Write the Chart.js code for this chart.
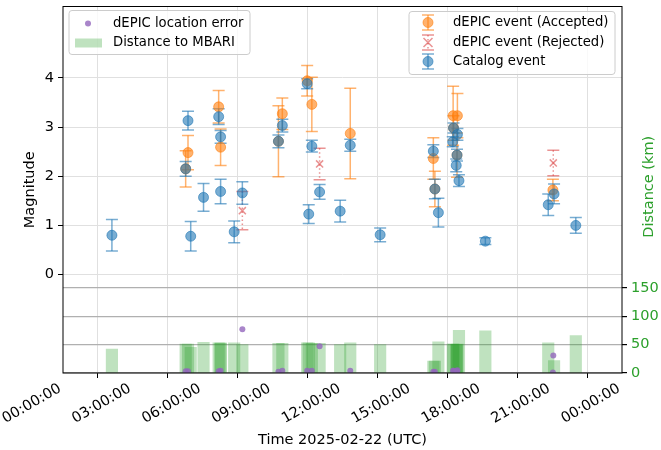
<!DOCTYPE html>
<html><head><meta charset="utf-8">
<script src="https://cdn.jsdelivr.net/npm/chart.js@4/dist/chart.umd.min.js"></script>
<style>html,body{margin:0;padding:0;background:#fff;}</style>
</head><body>
<canvas id="c" width="661" height="450"></canvas>
<script>
// ---------------- data ----------------
const xTickHours = [0, 3, 6, 9, 12, 15, 18, 21, 24];
const magTicks = [0, 1, 2, 3, 4];
const distTicks = [0, 50, 100, 150];

// Catalog events
const catalogTimes = ['02:06','05:16','05:22','05:29','06:02','06:41','06:46','06:46','07:21','07:42',
  '09:15','09:25','10:29','10:33','10:41','11:01','11:54','12:20','13:37','15:54','15:58','16:07',
  '16:44','16:46','16:53','16:55','16:56','17:00','18:08','20:50','21:05','22:01'];
const catalogMag = [0.80,2.15,3.13,0.78,1.57,3.21,2.80,1.69,0.87,1.66,
  2.71,3.03,3.88,1.23,2.61,1.68,1.29,2.63,0.81,2.51,1.74,1.26,
  2.70,2.98,2.22,2.43,2.85,1.91,0.68,1.42,1.64,1.00];
const catalogErr = [0.32,0.15,0.19,0.30,0.28,0.16,0.13,0.25,0.22,0.23,
  0.13,0.13,0.10,0.19,0.12,0.15,0.22,0.12,0.14,0.13,0.20,0.29,
  0.10,0.10,0.13,0.12,0.12,0.12,0.07,0.22,0.20,0.16];
const catalogDistKm = [42,51,51,45,54,53,53,52,53,50,
  52,52,53,53,52,52,50,53,50,21,21,55,
  51,51,50,50,51,75,74,53,22,66];

// dEPIC events (accepted)
const acceptedTimes = ['05:16','05:22','06:41','06:46','09:15','09:25','10:29','10:41','12:20',
  '15:54','15:58','16:45','16:46','16:55','16:56','21:02'];
const acceptedMag = [2.15,2.48,3.41,2.59,2.71,3.27,3.94,3.46,2.87,2.36,1.74,3.23,2.98,2.43,3.23,1.72];
const acceptedErr = [0.37,0.35,0.33,0.37,0.72,0.32,0.31,0.55,0.92,0.42,0.36,0.60,0.25,0.45,0.45,0.22];
const acceptedLocErrKm = [3,3,3,4,2,4,4,4,4,2,2,4,4,3,5,1];

// dEPIC events (rejected)
const rejectedTimes = ['07:42','11:01','21:03'];
const rejectedMag = [1.30,2.25,2.27];
const rejectedErr = [0.39,0.32,0.26];
const rejectedLocErrKm = [77,47,31];

// ---------------- helpers ----------------
const toH = s => { const [h, m] = s.split(':').map(Number); return h + m / 60; };
const pad2 = n => String(n).padStart(2, '0');
const FONT = 'DejaVu Sans';
const AX_FS = 14.5;   // axis / tick text
const LG_FS = 13.2;   // legend text

const C_BLUE = 'rgba(31,119,180,0.6)';
const C_ORANGE = 'rgba(255,127,14,0.6)';
const C_RED = 'rgba(214,39,40,0.5)';
const C_PURPLE = 'rgba(148,103,189,0.8)';
const C_GREEN = 'rgba(44,160,44,0.3)';
const C_GREEN_TXT = '#2ca02c';

const pts = (times, vals) => times.map((t, i) => ({ x: toH(t), y: vals[i] }));

function drawErrSet(chart, times, mags, errs, color, dotted) {
  const { ctx, scales: { x, y }, chartArea } = chart;
  ctx.save();
  ctx.beginPath();
  ctx.rect(chartArea.left, chartArea.top, chartArea.right - chartArea.left, chartArea.bottom - chartArea.top);
  ctx.clip();
  ctx.strokeStyle = color;
  ctx.lineWidth = 1.5;
  times.forEach((t, i) => {
    const px = x.getPixelForValue(toH(t));
    const top = y.getPixelForValue(mags[i] + errs[i]);
    const bot = y.getPixelForValue(mags[i] - errs[i]);
    ctx.setLineDash(dotted ? [1.5, 2.5] : []);
    ctx.beginPath(); ctx.moveTo(px, top); ctx.lineTo(px, bot); ctx.stroke();
    ctx.setLineDash([]);
    ctx.beginPath(); ctx.moveTo(px - 6, top); ctx.lineTo(px + 6, top); ctx.stroke();
    ctx.beginPath(); ctx.moveTo(px - 6, bot); ctx.lineTo(px + 6, bot); ctx.stroke();
  });
  ctx.restore();
}

function roundRect(ctx, x, y, w, h, r) {
  ctx.beginPath();
  ctx.moveTo(x + r, y);
  ctx.lineTo(x + w - r, y); ctx.quadraticCurveTo(x + w, y, x + w, y + r);
  ctx.lineTo(x + w, y + h - r); ctx.quadraticCurveTo(x + w, y + h, x + w - r, y + h);
  ctx.lineTo(x + r, y + h); ctx.quadraticCurveTo(x, y + h, x, y + h - r);
  ctx.lineTo(x, y + r); ctx.quadraticCurveTo(x, y, x + r, y);
  ctx.closePath();
}

function legendErrMarker(ctx, cx, cy, color, kind) {
  ctx.save();
  ctx.strokeStyle = color; ctx.lineWidth = 1.5;
  ctx.setLineDash(kind === 'x' ? [1.5, 2.5] : []);
  ctx.beginPath(); ctx.moveTo(cx, cy - 7.5); ctx.lineTo(cx, cy + 7.5); ctx.stroke();
  ctx.setLineDash([]);
  ctx.beginPath(); ctx.moveTo(cx - 6, cy - 7.5); ctx.lineTo(cx + 6, cy - 7.5); ctx.stroke();
  ctx.beginPath(); ctx.moveTo(cx - 6, cy + 7.5); ctx.lineTo(cx + 6, cy + 7.5); ctx.stroke();
  if (kind === 'x') {
    ctx.beginPath();
    ctx.moveTo(cx - 4.5, cy - 4.5); ctx.lineTo(cx + 4.5, cy + 4.5);
    ctx.moveTo(cx + 4.5, cy - 4.5); ctx.lineTo(cx - 4.5, cy + 4.5);
    ctx.stroke();
  } else {
    ctx.fillStyle = color; ctx.lineWidth = 1;
    ctx.beginPath(); ctx.arc(cx, cy, 5, 0, Math.PI * 2); ctx.fill(); ctx.stroke();
  }
  ctx.restore();
}

const extrasPlugin = {
  id: 'extras',
  beforeDatasetsDraw(chart) {
    drawErrSet(chart, acceptedTimes, acceptedMag, acceptedErr, C_ORANGE, false);
    drawErrSet(chart, rejectedTimes, rejectedMag, rejectedErr, C_RED, true);
    drawErrSet(chart, catalogTimes, catalogMag, catalogErr, C_BLUE, false);
  },
  afterDraw(chart) {
    const { ctx, chartArea: a } = chart;
    ctx.save();
    // frame
    ctx.strokeStyle = '#000'; ctx.lineWidth = 1;
    ctx.strokeRect(a.left, a.top, a.right - a.left, a.bottom - a.top);
    ctx.font = LG_FS + 'px "' + FONT + '"';
    ctx.textBaseline = 'middle';
    ctx.fillStyle = '#000';
    // left legend
    let lx = a.left + 6, ly = a.top + 4;
    roundRect(ctx, lx, ly, 181, 44, 3);
    ctx.fillStyle = 'rgba(255,255,255,0.8)'; ctx.fill();
    ctx.strokeStyle = '#cccccc'; ctx.stroke();
    ctx.fillStyle = C_PURPLE;
    ctx.beginPath(); ctx.arc(lx + 19, ly + 13, 3, 0, Math.PI * 2); ctx.fill();
    ctx.fillStyle = C_GREEN; ctx.fillRect(lx + 6, ly + 28, 27, 9);
    ctx.fillStyle = '#000';
    ctx.fillText('dEPIC location error', lx + 44, ly + 13);
    ctx.fillText('Distance to MBARI', lx + 44, ly + 32);
    // right legend
    let rx = a.right - 213, ry = a.top + 5;
    roundRect(ctx, rx, ry, 206, 63, 3);
    ctx.fillStyle = 'rgba(255,255,255,0.8)'; ctx.fill();
    ctx.strokeStyle = '#cccccc'; ctx.stroke();
    legendErrMarker(ctx, rx + 19, ry + 11, C_ORANGE, 'o');
    legendErrMarker(ctx, rx + 19, ry + 31, C_RED, 'x');
    legendErrMarker(ctx, rx + 19, ry + 50, C_BLUE, 'o');
    ctx.fillStyle = '#000';
    ctx.fillText('dEPIC event (Accepted)', rx + 44, ry + 11);
    ctx.fillText('dEPIC event (Rejected)', rx + 44, ry + 31);
    ctx.fillText('Catalog event', rx + 44, ry + 50);
    // right axis title (reads bottom to top)
    ctx.font = AX_FS + 'px "' + FONT + '"';
    ctx.translate(649, (a.top + a.bottom) / 2 - 3);
    ctx.rotate(-Math.PI / 2);
    ctx.textAlign = 'center';
    ctx.fillStyle = C_GREEN_TXT;
    ctx.fillText('Distance (km)', 0, 0);
    ctx.restore();
  }
};

new Chart(document.getElementById('c'), {
  type: 'scatter',
  data: {
    datasets: [
      { label: 'dEPIC location error', type: 'scatter', yAxisID: 'y2', order: 0,
        data: pts(acceptedTimes.concat(rejectedTimes), acceptedLocErrKm.concat(rejectedLocErrKm)),
        pointRadius: 3, pointBackgroundColor: C_PURPLE, pointBorderColor: C_PURPLE, pointBorderWidth: 0 },
      { label: 'Catalog event', type: 'scatter', yAxisID: 'y', order: 1,
        data: pts(catalogTimes, catalogMag),
        pointRadius: 5, pointBackgroundColor: C_BLUE, pointBorderColor: C_BLUE, pointBorderWidth: 1 },
      { label: 'dEPIC event (Accepted)', type: 'scatter', yAxisID: 'y', order: 2,
        data: pts(acceptedTimes, acceptedMag),
        pointRadius: 5, pointBackgroundColor: C_ORANGE, pointBorderColor: C_ORANGE, pointBorderWidth: 1 },
      { label: 'dEPIC event (Rejected)', type: 'scatter', yAxisID: 'y', order: 3,
        data: pts(rejectedTimes, rejectedMag), pointStyle: 'crossRot',
        pointRadius: 5, pointBorderColor: C_RED, pointBorderWidth: 1.5 },
      { label: 'Distance to MBARI', type: 'bar', yAxisID: 'y2', order: 10,
        data: pts(catalogTimes, catalogDistKm),
        backgroundColor: C_GREEN, borderWidth: 0, barThickness: 11.5, grouped: false }
    ]
  },
  options: {
    responsive: false, animation: false, devicePixelRatio: 1,
    layout: { padding: { top: 3, left: 0, right: 0, bottom: 0 } },
    plugins: { legend: { display: false }, tooltip: { enabled: false } },
    scales: {
      x: {
        type: 'linear', position: 'bottom', min: 0, max: 24, offset: false,
        afterBuildTicks: s => { s.ticks = xTickHours.map(v => ({ value: v })); },
        afterFit: s => { s.height = 77; s.paddingLeft = 0; s.paddingRight = 0; },
        ticks: { autoSkip: false, minRotation: 30, maxRotation: 30, padding: 2, labelOffset: -3, color: '#000',
          font: { family: FONT, size: AX_FS }, callback: v => pad2(v % 24) + ':00:00' },
        grid: { color: '#e0e0e0', lineWidth: 1, tickColor: '#000', tickLength: 5 },
        border: { display: false },
        title: { display: true, text: 'Time 2025-02-22 (UTC)', color: '#000',
          font: { family: FONT, size: AX_FS }, padding: { top: 2, bottom: 1 } }
      },
      y: {
        type: 'linear', position: 'left', min: -2, max: 5.45,
        afterBuildTicks: s => { s.ticks = magTicks.map(v => ({ value: v })); },
        afterFit: s => { s.width = 63; s.paddingTop = 0; s.paddingBottom = 0; },
        ticks: { color: '#000', padding: 4, font: { family: FONT, size: AX_FS }, callback: v => String(v) },
        grid: { color: '#e0e0e0', lineWidth: 1, tickColor: '#000', tickLength: 5 },
        border: { display: false },
        title: { display: true, text: 'Magnitude', color: '#000',
          font: { family: FONT, size: AX_FS }, padding: { top: 22, bottom: 0 } }
      },
      y2: {
        type: 'linear', position: 'right', min: 0, max: 645,
        afterBuildTicks: s => { s.ticks = distTicks.map(v => ({ value: v })); },
        afterFit: s => { s.width = 39; s.paddingTop = 0; s.paddingBottom = 0; },
        ticks: { color: C_GREEN_TXT, padding: 4, font: { family: FONT, size: AX_FS }, callback: v => String(v) },
        grid: { color: '#b0b0b0', lineWidth: 1.2, tickColor: '#000', tickLength: 5 },
        border: { display: false }
      }
    }
  },
  plugins: [extrasPlugin]
});
</script>
</body></html>
